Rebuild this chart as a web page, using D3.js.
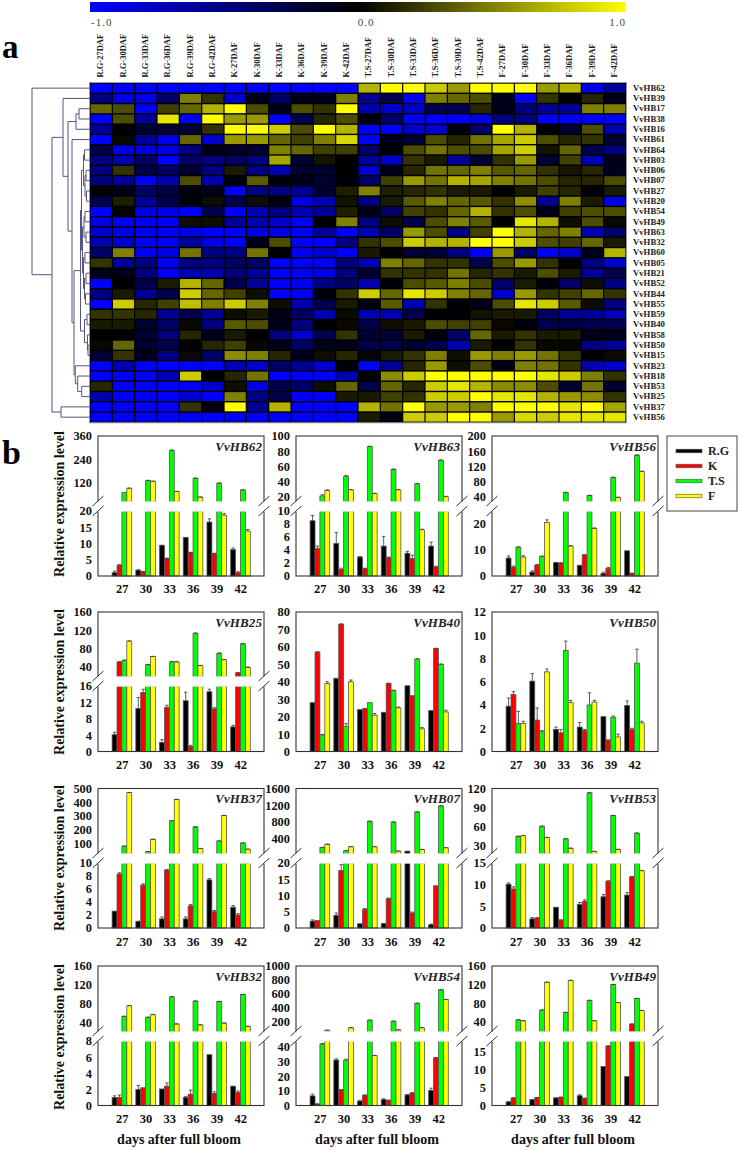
<!DOCTYPE html>
<html><head><meta charset="utf-8">
<script src="https://cdn.jsdelivr.net/npm/d3@7"></script>
<style>html,body{margin:0;padding:0;background:#fff}svg{display:block}text{font-family:"Liberation Serif",serif}</style>
</head><body><svg id="c" width="739" height="1150"></svg>
<script>
// ---------- heat map data (tenths of the -1..1 scale) ----------
const heatSamples = ["R.G-27DAF","R.G-30DAF","R.G-33DAF","R.G-36DAF","R.G-39DAF","R.G-42DAF","K-27DAF","K-30DAF","K-33DAF","K-36DAF","K-39DAF","K-42DAF","T.S-27DAF","T.S-30DAF","T.S-33DAF","T.S-36DAF","T.S-39DAF","T.S-42DAF","F-27DAF","F-30DAF","F-33DAF","F-36DAF","F-39DAF","F-42DAF"];
const heatGenes = ["VvHB62","VvHB39","VvHB17","VvHB38","VvHB16","VvHB61","VvHB64","VvHB03","VvHB06","VvHB07","VvHB27","VvHB20","VvHB54","VvHB49","VvHB63","VvHB32","VvHB60","VvHB05","VvHB21","VvHB52","VvHB44","VvHB55","VvHB59","VvHB40","VvHB58","VvHB50","VvHB15","VvHB23","VvHB18","VvHB53","VvHB25","VvHB37","VvHB56"];
const heatValues = [
[-10,-10,-10,-10,-10,-10,-10,-10,-10,-10,-10,-10,7,10,10,8,6,10,10,10,6,7,-9,-6],
[-5,-9,-9,-4,5,2,-8,-1,-4,-1,-1,5,-6,-3,-10,5,4,3,-1,-10,2,0,1.5,-1],
[4,3,-10,2.5,4,7,10,3,-1,3,2,10,-7,-8,-8,-3,-3,1.5,-1,-5,-6,-6,5,5],
[-10,3,-6,9,-10,10,6,6,-10,-3,1.5,3,-0.5,-4,-10,-10,-10,-9,-5,-5,-10,-10,-10,-10],
[-6,0,-2,-2,-2,2,10,10,8,3,10,7,-10,-10,-8,-8,-0.5,-4,10,7,0,-2,3,-7],
[-10,0.3,-6,-9,4,-8,6,6,4,2.5,5,8.5,-10,-1,-2,3,1.5,4.5,6.5,8,3,1.5,2,-2],
[-3,-9,-9,-9,-5,-1,-1.5,-2,5,4,2.5,2.5,-4,-0.3,3,4.5,3,3,6.5,8,0.7,4,-3,-5],
[-5,-7,-4,-10,-4,-5,-4,-5,6.5,-2,0.8,0,-6,-8,2,1,-6,-2,2,6,-2,2.5,-7,-1],
[-5,2,-3,-4,-2,-5,1,-5,-7,-2,-2,0,-8,-1,1.5,4.5,4,5,3.5,4,2,0.8,1.5,-1.5],
[-5,-6,-10,-7,3,-7,-0.5,3.5,-0.5,-1,-2,-0.5,-4,2.5,6,4.5,7,6.5,5,4.5,3,1.5,1.5,3],
[0,-1,-4,-3,-0.5,-1,-10,-5,-5,-6,-2,1.2,5,1.2,1.5,2,1,1,0,1,2.5,1.5,-0.5,1],
[-3,1.2,-6,-3,-0.3,0.5,-3,0.5,-0.5,-9,-7,0.7,-5,1,3.5,5,4,3.5,2,5.5,-6,5,1,-9],
[-10,0.2,-9,-9,-10,-3,-10,-7,-5,-7,-6,1.2,-1,-4,2.5,2,4,7,2,3,-1,2.5,3,3],
[-9,-10,-10,-10,0.5,0.5,-6,-7,-8,-10,0,5,-5,0.5,-3,3,5,3.5,0,9,7,0.5,3,0.3],
[-8,-9,-10,-10,-9,-10,-10,-9,-9,-10,-6,-10,-7,-4,6,3,-5,2.5,10,7,4,5,-7,-4],
[-7,-8,-10,-10,-6,-9,-10,-1,3,-10,-10,-5,2,3,8,7,7,10,10,8,3,2.5,4,1],
[-4,5,-10,-9,4.5,-5,-5,4.5,0,-10,-8,-10,1,-0.2,-2,-2,-5,-10,6,-4,-10,-8,-1,7],
[2,-6,-5,-10,-5,-5,-4,-4,-10,-10,-10,-5,-7,5,4,2,2,-3,3,6,2,0,-5,-8],
[-1,-1,-5,-10,-7,-7,-5,-6,-10,-10,-9,-5,-2,2,2,2,4.5,1.5,2,1,3,1,-6,-3],
[-10,0,-3,1,7,4,-3,-6,-10,-10,-5,-4,-7,-0.3,3,3.5,5,3,-4,1,-0.3,-4,0.5,-5],
[-5,1,-6,-3,8,4,2.5,0.5,-10,-10,-0.3,2,8,4,9,8,5,4,-8,6,2,2.5,4,2],
[-10,8,1.5,2.5,7.5,5,8,5,0.5,-7,-3,1,-0.3,3.5,-7,2,0,-1,3,9,8,3.5,0.5,-5],
[2,2,1.5,-6,-3,-6,0.5,1,-1,-4,-7,0.4,-7,-7,-3,-0.2,-0.2,0.7,1,1,-4,-6,-6,-7],
[1,1,-2,-4,0.3,-5,3.5,3,-1,-5,0,0.3,-3,0.5,1,3,2.5,2.5,0.3,-0.5,-3,-2.5,-3,-3],
[0,0,-2,-5,1.5,-1,1,0,-5,-8,-3,2,-2,-2,1,-0.5,-4,4,1,2,1,1,-1,-1],
[0.3,4,-2,-3,0.1,1.5,2.5,0.3,-1,-4,-1,-1,-3,-3,-2,-3,-7,1,0,2,0.3,0.2,-5,-6],
[-2,2,-1,-5,0.4,-4,5.5,5,1.5,-1,0.5,1.5,0.2,1,2,5,0.5,6,5,6,4.5,2,0,0.4],
[-10,-7,-10,-10,-10,-10,-7,-8,-4,-6,-8,-0.3,-10,-6,1.5,6,0.5,3,-1,5,4.5,2,-7,-8],
[-10,-10,-10,-7,8,0,1.5,4.5,-10,-10,-10,-7,0.2,5.5,8,10,10,10,10,10,9,8,5,2],
[1.5,-10,-10,-10,-10,-8,0.5,-9,-3,-4,0.5,4,-3,4,1.5,8,9,7,5.5,5.5,3,-2,4.5,-2],
[-7,-10,-10,-10,-8,-10,5,-5,-3,-10,-10,1,1,2.5,2,8,8,10,9,9,7,6,5.5,2],
[-10,-10,-10,-10,2,-0.5,10,-6,7,-10,-10,-10,7,4.5,10,6,6,5,10,10,10,9,10,6.5],
[-10,-10,-10,-10,-10,-10,-10,-10,-10,-10,-10,-10,1,-0.3,8,8,10,10,6,8.5,8,9,9,9]
];
const scaleTickLabels = ["-1.0","0.0","1.0"];
// dendrogram: [distance, child, child]
const dendroTree = [58,"VvHB62",[38,
  [27,"VvHB39",[22,[14,[11,"VvHB17","VvHB38"],"VvHB16"],
    [18,"VvHB61",[16,
      [9.5,
        [8.5,
          [6.5,[5.5,"VvHB64","VvHB03"],[5,[4,"VvHB06","VvHB07"],[3.5,"VvHB27","VvHB20"]]],
          [7.5,[6,[5,"VvHB54","VvHB49"],[4,"VvHB63","VvHB32"]],[6.5,[5,"VvHB60","VvHB05"],[5.5,[4,"VvHB21","VvHB52"],[4.5,"VvHB44","VvHB55"]]]]],
        [5.5,[3,"VvHB59","VvHB40"],[2.5,"VvHB58",[2,"VvHB50","VvHB15"]]]],
      [14.7,"VvHB23",[12.3,"VvHB18",[8.3,"VvHB53","VvHB25"]]]]]]],
  [29,"VvHB37","VvHB56"]]];

// ---------- bar chart data: [R.G, K, T.S, F], six time points each ----------
const days = [27,30,33,36,39,42];
const seriesNames = ["R.G","K","T.S","F"];
const hb62 = [[1,1.8,9.4,11.9,16.6,8.1],[3.3,1.3,5.4,7.2,6.9,1],[70,130,286,142,117,82],[91,127,74,45,18.7,13.8]];
const hb62err = [[0.5,0.1,0.1,0,1,0.5],[0.2,0.1,0.1,0.1,0.1,0.3],[0,2,2,2,1,1],[1,1,1,1,0.5,0.5]];
const hb63 = [[8.5,5,2.9,4.6,3.5,4.6],[4.2,1,1.1,2.8,2.7,1.4],[21,47,86,56,37,68],[28,29,24,29,7.1,20]];
const hb63err = [[0.8,1.7,0.1,1.5,0.3,0.6],[0.4,0.2,0.1,0.1,0.5,0.1],[1.5,1,0.5,0.5,0.5,0.5],[1,0.5,0.5,0.5,0.1,0.5]];
const hb56 = [[6.9,1.5,5.1,4,1,9.7],[3.4,4.2,5,8.1,2.9,1],[11.1,7.5,50,42,90,149],[7.3,20.6,11.5,18.3,37,106]];
const hb56err = [[0.8,0.5,0.1,0.1,0.5,0],[0.4,0.2,0.1,0.1,0.4,0.1],[0.1,0.2,1,1,1,1],[0.5,1,0.2,0.2,1,1]];
const hb25 = [[4.1,10.5,2.2,12.4,14.6,6],[50,14.4,10.8,1.2,10.4,26],[53.5,44,50,113,69,90],[96,62,50,42,55,38]];
const hb25err = [[0.6,2.7,0.7,2.1,0.6,0.4],[0.5,0.8,0.5,0.3,0.3,0.5],[1,0.5,1.5,1,1,0.5],[0.5,0.5,1,0.5,0.5,1]];
const hb40 = [[28,42,24,22.5,37.7,23.5],[57,73,24.5,39,32,59],[9.5,14.5,28,35,53,50],[39,40,20.8,25,13,22.7]];
const hb40err = [[0,0,0,0,0,0],[0.2,0.2,0.2,0.2,0,0.2],[0.3,1.5,0,0.2,0.2,0.2],[1,1,1,0.5,0.8,1]];
const hb50 = [[3.9,6.05,1.9,2.1,3,3.95],[4.9,2.7,1.6,1.8,1,1.9],[2.4,1.7,8.7,4,2.95,7.6],[2.4,6.85,4.2,4.25,1.25,2.45]];
const hb50err = [[0.7,0.65,0.2,0.4,0,0.4],[0.25,1.05,0.3,0.1,0,0.1],[1.05,0.1,0.8,1.05,0.1,1.2],[0.2,0.25,0.2,0.15,0.25,0.15]];
const hb37 = [[2.6,1,1.4,1.4,7.4,3.2],[8.3,6.6,8.9,3.4,2.5,2],[80,40,265,220,118,103],[470,130,420,63,303,58]];
const hb37err = [[0,0.05,0.3,0.3,0.2,0.25],[0.2,0.2,0.1,0.2,0.2,0.2],[1,1,1,1,1,1],[1,1,1,1,1,1]];
const hb07 = [[2.1,3.9,1.3,1.3,90,1],[2.3,17.7,5.7,9,4.6,13],[180,100,810,790,1035,1180],[255,195,195,90,130,170]];
const hb07err = [[0.4,0.7,0,0.1,0,0.2],[0,1.8,0.3,0.2,0.3,0],[2,2,2,2,2,2],[2,2,2,2,2,2]];
const hb53 = [[10.1,2.1,4.8,5.4,7.2,7.6],[9,2.3,1.9,6.1,10.8,11.8],[44,60,40,113,77,49],[45,42,25,20,23,13.2]];
const hb53err = [[0.3,0.3,0,0.5,0.5,0.6],[0.5,0.1,0,0.4,0.1,0.1],[0.5,0.5,0.5,0.5,0.5,0.5],[0.5,0.5,0.5,0.5,0.5,0.1]];
const hb32 = [[1,2,2.05,1,6.3,2.4],[1,2.2,2.4,1.4,1.5,1.6],[52,50,94,85,84,99],[75,56,36,34,38,31]];
const hb32err = [[0.2,0.5,0,0.1,0,0],[0.3,0,0.4,0.5,0.2,0.2],[1,1,1,0.5,0.5,0.5],[0.5,0.5,0.5,0.5,0.5,0.5]];
const hb54 = [[6.5,31,3,4,7.2,10.3],[1,10.6,7,3.5,8.5,32.5],[42,31,215,200,460,655],[70,105,34,75,105,515]];
const hb54err = [[1.2,0.8,0.5,0.6,0.2,1.5],[0.1,0.2,0.2,0.2,0.2,0.2],[0.2,0.5,2,2,2,2],[2,2,0.2,2,2,2]];
const hb49 = [[1,1.6,2.1,2.7,10.9,8.1],[2.1,2.2,2.3,2,16.6,35],[44,65,60,86,120,90],[42,125,129,42,81,64]];
const hb49err = [[0.05,0.05,0.05,0.3,0,0],[0.05,0.05,0.05,0.05,0.05,0.5],[0.5,0.5,0.5,0.5,0.5,0.5],[0.5,0.5,0.5,0.5,0.5,0.5]];

const upperTicks62 = [120,240,360], lowerTicks62 = [0,5,10,15,20];
const upperTicks63 = [20,40,60,80,100], lowerTicks63 = [0,2,4,6,8,10];
const upperTicks56 = [40,80,120,160,200], lowerTicks56 = [0,10,20];
const upperTicks25 = [40,80,120,160], lowerTicks25 = [0,4,8,12,16];
const ticks40 = [0,10,20,30,40,50,60,70,80];
const ticks50 = [0,2,4,6,8,10,12];
const upperTicks37 = [100,200,300,400,500], lowerTicks37 = [0,2,4,6,8,10];
const upperTicks07 = [400,800,1200,1600], lowerTicks07 = [0,5,10,15,20];
const upperTicks53 = [30,60,90,120], lowerTicks53 = [0,5,10,15];
const upperTicks32 = [40,80,120,160], lowerTicks32 = [0,2,4,6,8];
const upperTicks54 = [200,400,600,800,1000], lowerTicks54 = [0,10,20,30,40];
const upperTicks49 = [40,80,120,160], lowerTicks49 = [0,5,10,15];

// panel table built from the arrays above
const panels = [
 {name:"VvHB62",v:hb62,e:hb62err,row:0,col:0,low:[0,20],up:[20,360],lt:lowerTicks62,ut:upperTicks62},
 {name:"VvHB63",v:hb63,e:hb63err,row:0,col:1,low:[0,10],up:[13,100],lt:lowerTicks63,ut:upperTicks63},
 {name:"VvHB56",v:hb56,e:hb56err,row:0,col:2,low:[0,25],up:[25,200],lt:lowerTicks56,ut:upperTicks56},
 {name:"VvHB25",v:hb25,e:hb25err,row:1,col:0,low:[0,16],up:[17,160],lt:lowerTicks25,ut:upperTicks25},
 {name:"VvHB40",v:hb40,e:hb40err,row:1,col:1,low:[0,80],lt:ticks40},
 {name:"VvHB50",v:hb50,e:hb50err,row:1,col:2,low:[0,12],lt:ticks50},
 {name:"VvHB37",v:hb37,e:hb37err,row:2,col:0,low:[0,10],up:[23,500],lt:lowerTicks37,ut:upperTicks37},
 {name:"VvHB07",v:hb07,e:hb07err,row:2,col:1,low:[0,20],up:[20,1600],lt:lowerTicks07,ut:upperTicks07},
 {name:"VvHB53",v:hb53,e:hb53err,row:2,col:2,low:[0,15],up:[16,120],lt:lowerTicks53,ut:upperTicks53},
 {name:"VvHB32",v:hb32,e:hb32err,row:3,col:0,low:[0,8],up:[19,160],lt:lowerTicks32,ut:upperTicks32},
 {name:"VvHB54",v:hb54,e:hb54err,row:3,col:1,low:[0,44],up:[44,1000],lt:lowerTicks54,ut:upperTicks54},
 {name:"VvHB49",v:hb49,e:hb49err,row:3,col:2,low:[0,18],up:[18,160],lt:lowerTicks49,ut:upperTicks49}
];

// ---------- layout ----------
const svg = d3.select("#c");
const heat = {left:90,right:626,top:83,bottom:422.3};
const serif = "Liberation Serif";
const heatColor = d3.scaleLinear().domain([-10,0,10]).range(["#0000ff","#000000","#ffff00"]);
const xHeat = d3.scaleBand().domain(heatSamples).range([heat.left,heat.right]);
const yHeat = d3.scaleBand().domain(heatGenes).range([heat.top,heat.bottom]);

// colour bar
const grad = svg.append("defs").append("linearGradient").attr("id","cb");
d3.range(-10,10.01,2.5).forEach(v=>grad.append("stop").attr("offset",((v+10)/20*100)+"%").attr("stop-color",heatColor(v)));
svg.append("rect").attr("x",heat.left).attr("y",2).attr("width",heat.right-heat.left).attr("height",10).attr("fill","url(#cb)");
const xBar = d3.scaleLinear().domain([-1,1]).range([heat.left,heat.right]);
svg.selectAll(".cbt").data(scaleTickLabels).join("text").attr("class","cbt")
  .attr("x",(d,i)=>i==0?xBar(+d)+1:i==1?xBar(+d)+8:xBar(+d))
  .attr("y",25.5).attr("text-anchor",(d,i)=>i==0?"start":i==1?"middle":"end")
  .attr("font-size",11).attr("letter-spacing",1).attr("fill","#444").text(d=>d);

// heat map
svg.append("rect").attr("x",heat.left-.5).attr("y",heat.top-.5).attr("width",heat.right-heat.left+1).attr("height",heat.bottom-heat.top+1).attr("fill","#000").attr("stroke","#999");
const hr = svg.append("g").selectAll("g").data(heatValues).join("g");
hr.selectAll("rect").data((row,i)=>row.map((v,j)=>({v,j,i}))).join("rect")
  .attr("x",d=>xHeat(heatSamples[d.j])+.6).attr("y",d=>yHeat(heatGenes[d.i])+.7)
  .attr("width",xHeat.bandwidth()-1.2).attr("height",yHeat.bandwidth()-1.4)
  .attr("fill",d=>heatColor(d.v));
svg.selectAll(".cl").data(heatSamples).join("text").attr("class","cl")
  .attr("transform",d=>`translate(${xHeat(d)+xHeat.bandwidth()/2-.5},77.5) rotate(-90)`)
  .attr("dy","0.32em").attr("font-size",8.5).attr("font-weight","bold").attr("fill","#222").text(d=>d);
svg.selectAll(".rl").data(heatGenes).join("text").attr("class","rl")
  .attr("x",633).attr("y",d=>yHeat(d)+yHeat.bandwidth()/2).attr("dy","0.32em")
  .attr("font-size",8.7).attr("font-weight","bold").attr("fill","#222").text(d=>d);

// dendrogram
const root = d3.hierarchy(dendroTree,d=>Array.isArray(d)?d.slice(1):null);
const xDen = d3.scaleLinear().domain([0,58]).range([heat.left,32]);
root.eachAfter(n=>{
  if(n.children){ n.py=d3.mean(n.children,c=>c.py); n.h=n.data[0]; }
  else { n.py=yHeat(n.data)+yHeat.bandwidth()/2; n.h=0; }
});
const denPath = d3.path();
root.each(n=>{ if(n.children){
  const x=xDen(n.h);
  denPath.moveTo(xDen(n.children[0].h),n.children[0].py);
  denPath.lineTo(x,n.children[0].py);
  denPath.lineTo(x,n.children[1].py);
  denPath.lineTo(xDen(n.children[1].h),n.children[1].py);
}});
svg.append("path").attr("d",denPath.toString()).attr("fill","none").attr("stroke","#55557f").attr("stroke-width",1);

// letters
svg.append("text").attr("x",2).attr("y",58).attr("font-size",33).attr("font-weight","bold").text("a");
svg.append("text").attr("x",2).attr("y",464).attr("font-size",34).attr("font-weight","bold").text("b");

// bar panels
const rowsGeom = [
 {top:436,bottom:576,gapTop:502,gapBottom:511,label:593,yLabel:504},
 {top:612,bottom:751.5,gapTop:677,gapBottom:686,label:769,yLabel:682},
 {top:788.5,bottom:928,gapTop:854,gapBottom:863,label:946,yLabel:858},
 {top:966,bottom:1105.5,gapTop:1032,gapBottom:1041,label:1123,yLabel:1037}];
const colsGeom = [{left:98,right:264},{left:296,right:462},{left:492,right:658}];
const barColors = d3.scaleOrdinal().domain(seriesNames).range(["#000000","#ff0000","#00ff00","#ffff00"]);
const xSeries = d3.scaleBand().domain(seriesNames).range([-9.6,10]);

panels.forEach(p=>{
  const R=rowsGeom[p.row], C=colsGeom[p.col];
  const g=svg.append("g");
  const xDay=d3.scaleLinear().domain([24,45]).range([C.left,C.right]);
  const broken=!!p.up;
  const yLow=d3.scaleLinear().domain(p.low).range([R.bottom,broken?R.gapBottom:R.top]);
  const yUp=broken?d3.scaleLinear().domain(p.up).range([R.gapTop,R.top]):null;
  const bars=[];
  seriesNames.forEach((s,si)=>days.forEach((d,di)=>bars.push({s,d,v:p.v[si][di],e:p.e[si][di]})));
  const bx=d=>xDay(d.d)+xSeries(d.s);
  const bw=xSeries.bandwidth();
  // lower piece
  g.selectAll(".lo").data(bars).join("rect").attr("class","lo")
    .attr("x",bx).attr("width",bw)
    .attr("y",d=>yLow(Math.min(d.v,p.low[1]))).attr("height",d=>R.bottom-yLow(Math.min(d.v,p.low[1])))
    .attr("fill",d=>barColors(d.s)).attr("stroke","#555").attr("stroke-width",.8);
  // upper piece
  if(broken){
    g.selectAll(".up").data(bars.filter(d=>d.v>p.low[1])).join("rect").attr("class","up")
      .attr("x",bx).attr("width",bw)
      .attr("y",d=>yUp(d.v)).attr("height",d=>R.gapTop-yUp(d.v))
      .attr("fill",d=>barColors(d.s)).attr("stroke","#555").attr("stroke-width",.8);
  }
  // error bars
  const yVal=v=>(broken&&v>p.low[1])?yUp(v):yLow(v);
  const errs=bars.filter(d=>d.e>0);
  const ep=d3.path();
  errs.forEach(d=>{const x=bx(d)+bw/2,y0=yVal(d.v),y1=yVal(d.v+d.e);
    ep.moveTo(x,y0);ep.lineTo(x,y1);ep.moveTo(x-1.7,y1);ep.lineTo(x+1.7,y1);});
  g.append("path").attr("d",ep.toString()).attr("fill","none").attr("stroke","#333").attr("stroke-width",.8);
  // frame
  g.append("rect").attr("x",C.left).attr("y",R.top).attr("width",C.right-C.left).attr("height",R.bottom-R.top)
    .attr("fill","none").attr("stroke","#333").attr("stroke-width",1.1);
  // break
  if(broken){
    g.append("rect").attr("x",C.left-1.5).attr("y",R.gapTop-.6).attr("width",C.right-C.left+3).attr("height",R.gapBottom-R.gapTop+1.2).attr("fill","#fff");
    const bp=d3.path();
    [C.left,C.right].forEach(x=>{
      bp.moveTo(x-5.5,R.gapTop+4);bp.lineTo(x+5.5,R.gapTop-6);
      bp.moveTo(x-5.5,R.gapBottom+5);bp.lineTo(x+5.5,R.gapBottom-5);
    });
    g.append("path").attr("d",bp.toString()).attr("fill","none").attr("stroke","#333").attr("stroke-width",1);
  }
  // axes
  const styleAxis=a=>{a.select(".domain").remove();a.selectAll(".tick line").remove();
    a.selectAll("text").attr("font-family",serif).attr("font-size",12.4).attr("font-weight","bold").attr("fill","#111");};
  g.append("g").attr("transform",`translate(${C.left},0)`).call(d3.axisLeft(yLow).tickValues(p.lt).tickFormat(d3.format("d")).tickSize(0).tickPadding(6)).call(styleAxis);
  if(broken) g.append("g").attr("transform",`translate(${C.left},0)`).call(d3.axisLeft(yUp).tickValues(p.ut).tickFormat(d3.format("d")).tickSize(0).tickPadding(6)).call(styleAxis);
  g.append("g").attr("transform",`translate(0,${R.label-9})`).call(d3.axisBottom(xDay).tickValues(days).tickFormat(d3.format("d")).tickSize(0).tickPadding(0)).call(a=>{
    a.select(".domain").remove();a.selectAll(".tick line").remove();
    a.selectAll("text").attr("font-family",serif).attr("font-size",12.5).attr("font-weight","bold").attr("fill","#111");});
  // gene title
  g.append("text").attr("x",C.right-2).attr("y",R.top+14.5).attr("text-anchor","end")
    .attr("font-size",13).attr("font-weight","bold").attr("font-style","italic").attr("fill","#222").attr("letter-spacing",.1).text(p.name);
  // y label
  if(p.col==0) g.append("text").attr("transform",`translate(60,${R.yLabel}) rotate(-90)`).attr("text-anchor","middle").attr("dy","0.32em")
    .attr("font-size",14).attr("font-weight","bold").attr("fill","#111").text("Relative expression level");
  // x title
  if(p.row==3) g.append("text").attr("x",(C.left+C.right)/2-2).attr("y",1144).attr("text-anchor","middle")
    .attr("font-size",14).attr("font-weight","bold").attr("fill","#111").text("days after full bloom");
});

// legend
const leg=svg.append("g");
leg.append("rect").attr("x",667).attr("y",436).attr("width",70).attr("height",75).attr("fill","#fff").attr("stroke","#444").attr("stroke-width",1);
const yLeg=d3.scalePoint().domain(seriesNames).range([451,496]);
leg.selectAll(".sw").data(seriesNames).join("rect").attr("class","sw")
  .attr("x",676).attr("y",d=>yLeg(d)-1.8).attr("width",26).attr("height",3.6)
  .attr("fill",d=>barColors(d)).attr("stroke","#555").attr("stroke-width",.6);
leg.selectAll(".lt").data(seriesNames).join("text").attr("class","lt")
  .attr("x",708).attr("y",d=>yLeg(d)).attr("dy","0.35em")
  .attr("font-size",12).attr("font-weight","bold").attr("fill","#222").text(d=>d);
</script></body></html>
